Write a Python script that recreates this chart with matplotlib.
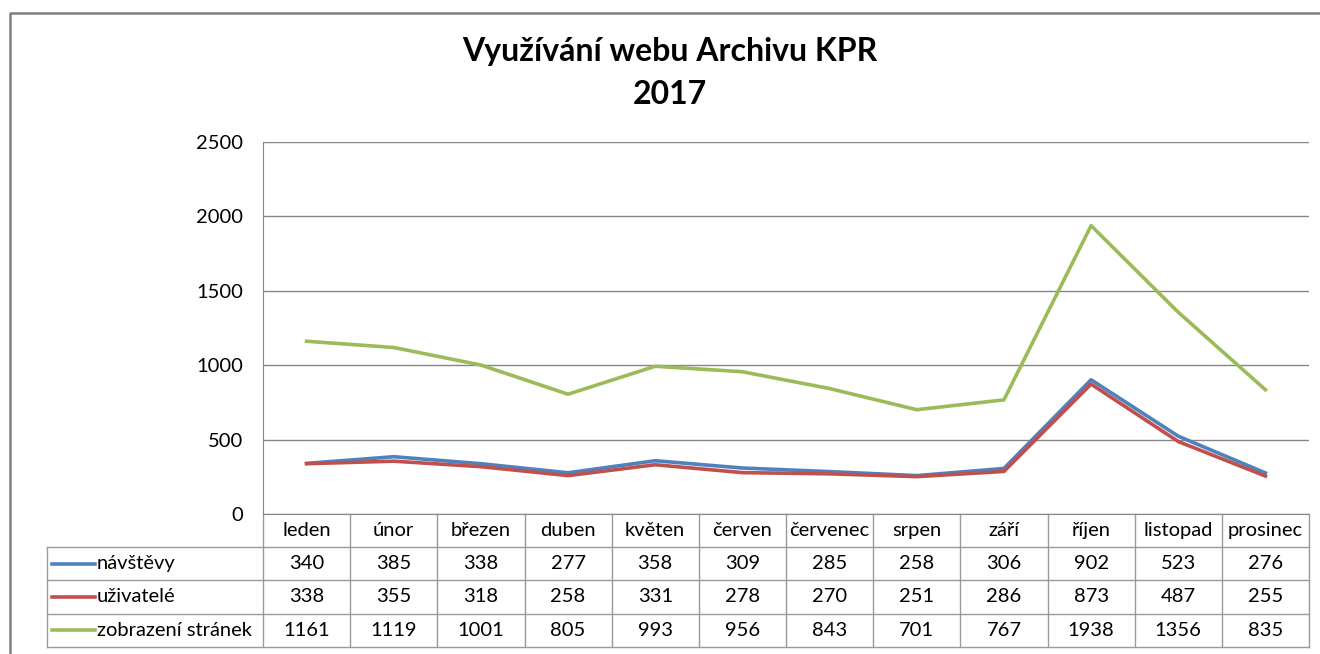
import matplotlib
matplotlib.use("Agg")
import matplotlib.pyplot as plt
from matplotlib.transforms import blended_transform_factory
from matplotlib.lines import Line2D

plt.rcParams['font.family'] = ['Lato', 'DejaVu Sans']

months = ["leden", "únor", "březen", "duben", "květen", "červen",
          "červenec", "srpen", "září", "říjen", "listopad", "prosinec"]
navstevy = [340, 385, 338, 277, 358, 309, 285, 258, 306, 902, 523, 276]
uzivatele = [338, 355, 318, 258, 331, 278, 270, 251, 286, 873, 487, 255]
zobrazeni = [1161, 1119, 1001, 805, 993, 956, 843, 701, 767, 1938, 1356, 835]

series = [("návštěvy", navstevy, "#4F81BD"),
          ("uživatelé", uzivatele, "#C0504D"),
          ("zobrazení stránek", zobrazeni, "#9BBB59")]

W, H = 1320, 654
fig = plt.figure(figsize=(W / 100, H / 100), dpi=100)
fig.patch.set_facecolor("white")


def fx(px):
    return px / W


def fy(py):
    return 1 - py / H


# outer chart frame (only top/left visible in the crop)
fig.add_artist(Line2D([fx(10), fx(10), fx(1330)], [fy(660), fy(13), fy(13)],
                      transform=fig.transFigure, color="#7f7f7f", lw=1.8))

# plot area
x0, x1, ytop, ybot = 263, 1309, 142, 514
ax = fig.add_axes([fx(x0), fy(ybot), fx(x1 - x0), fy(ytop) - fy(ybot)])
n = len(months)
xs = list(range(n))
for name, vals, col in series:
    ax.plot(xs, vals, color=col, lw=2.6, solid_joinstyle="round", zorder=3)
ax.set_xlim(-0.5, n - 0.5)
ax.set_ylim(0, 2500)
ax.set_yticks(range(0, 2501, 500))
ax.yaxis.grid(True, color="#868686", lw=1)
ax.set_axisbelow(True)
ax.set_xticks([])
ax.tick_params(axis="y", length=0, pad=14.5, labelsize=14.5)
for s in ["top", "right"]:
    ax.spines[s].set_visible(False)
ax.spines["left"].set_color("#868686")
ax.spines["bottom"].set_color("#868686")

fig.text(fx(670), fy(52), "Využívání webu Archivu KPR", ha="center", va="center",
         fontsize=23, fontweight="bold")
fig.text(fx(670), fy(95), "2017", ha="center", va="center",
         fontsize=23, fontweight="bold")

# data table below the plot, x in the plot's category units
tb_top, row_h = 514, 33.2
leg_left = 47
tr = blended_transform_factory(ax.transData, fig.transFigure)
col_w = (x1 - x0) / n
leg_x = -0.5 - (x0 - leg_left) / col_w
lc = "#9a9a9a"


def ry(r):
    return fy(tb_top + r * row_h)


# horizontal lines
for r in range(1, 5):
    ax.add_line(Line2D([leg_x, n - 0.5], [ry(r), ry(r)], transform=tr,
                       color=lc, lw=1, clip_on=False))
# vertical lines
for k in range(n + 1):
    ax.add_line(Line2D([k - 0.5, k - 0.5], [ry(0), ry(4)], transform=tr,
                       color=lc, lw=1, clip_on=False))
ax.add_line(Line2D([leg_x, leg_x], [ry(1), ry(4)], transform=tr,
                   color=lc, lw=1, clip_on=False))

fs = 14.5
for i, m in enumerate(months):
    ax.text(i, (ry(0) + ry(1)) / 2, m, transform=tr, ha="center", va="center",
            fontsize=fs, clip_on=False)

key_w = (95 - 52) / col_w
for r, (name, vals, col) in enumerate(series, start=1):
    yc = (ry(r) + ry(r + 1)) / 2
    ax.add_line(Line2D([leg_x + 5 / col_w, leg_x + 5 / col_w + key_w], [yc, yc],
                       transform=tr, color=col, lw=2.6, clip_on=False))
    ax.text(leg_x + 50 / col_w, yc, name, transform=tr, ha="left", va="center",
            fontsize=fs, clip_on=False)
    for i, v in enumerate(vals):
        ax.text(i, yc, str(v), transform=tr, ha="center", va="center",
                fontsize=fs, clip_on=False)

fig.savefig("out.png", dpi=100)
